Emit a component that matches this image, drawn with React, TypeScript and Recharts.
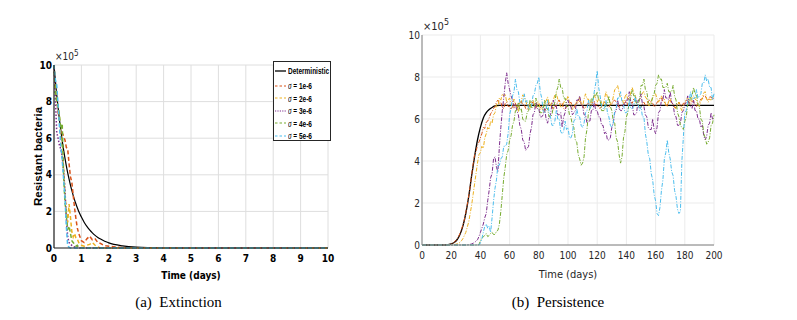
import { LineChart, Line, XAxis, YAxis, CartesianGrid, Label } from "recharts";

const NARROW = "'Liberation Sans Narrow', 'Arial Narrow', 'DejaVu Sans Condensed', sans-serif";
const SANS = "'Liberation Sans', Arial, sans-serif";
const SERIF = "'Liberation Serif', 'Times New Roman', serif";

// shared series styling (MATLAB default colour order)
const sigmaLabels = ["1e-6", "2e-6", "3e-6", "4e-6", "5e-6"];
const sigmaColors = ["#D95319", "#EDB120", "#7E2F8E", "#77AC30", "#4DBEEE"];
const extDash = ["4 2.5", "4 2.5", "1.5 1.8", "4 2.5", "4 2.5"];

const extTicksX = [0, 1, 2, 3, 4, 5, 6, 7, 8, 9, 10];
const perTicksX = [0, 20, 40, 60, 80, 100, 120, 140, 160, 180, 200];
const ticksY = [0, 2, 4, 6, 8, 10];

// (a) Extinction, values in units of 10^5
const extTime = [
  0, 0.05, 0.1, 0.15, 0.2, 0.25, 0.3, 0.35, 0.4, 0.45,
  0.5, 0.55, 0.6, 0.65, 0.7, 0.75, 0.8, 0.85, 0.9, 0.95,
  1.0, 1.1, 1.2, 1.3, 1.4, 1.5, 1.6, 1.7, 1.8, 1.9,
  2.0, 2.5, 3, 4, 5, 6, 7, 8, 9, 10,
];
const extDet = [
  10, 9.15, 8.37, 7.66, 7.0, 6.41, 5.86, 5.36, 4.91, 4.49,
  4.11, 3.76, 3.44, 3.15, 2.88, 2.63, 2.41, 2.2, 2.01, 1.84,
  1.69, 1.41, 1.18, 0.99, 0.83, 0.69, 0.58, 0.49, 0.41, 0.34,
  0.28, 0.12, 0.05, 0.01, 0, 0, 0, 0, 0, 0,
];
const extS1 = [
  10, 9.0, 8.1, 7.4, 6.9, 6.2, 6.3, 6.1, 5.9, 5.5,
  5.4, 4.6, 3.9, 3.6, 2.9, 2.2, 1.6, 1.1, 0.8, 0.6,
  0.4, 0.3, 0.5, 0.65, 0.45, 0.5, 0.3, 0.25, 0.15, 0.12,
  0.1, 0.02, 0, 0, 0, 0, 0, 0, 0, 0,
];
const extS2 = [
  10, 8.8, 8.0, 7.8, 7.1, 6.0, 5.2, 4.4, 3.0, 2.0,
  1.4, 2.4, 1.7, 0.9, 0.6, 0.8, 0.55, 0.5, 0.3, 0.2,
  0.15, 0.1, 0.15, 0.2, 0.3, 0.15, 0.05, 0, 0, 0,
  0, 0, 0, 0, 0, 0, 0, 0, 0, 0,
];
const extS3 = [
  10, 8.2, 6.3, 6.0, 5.6, 5.4, 5.0, 4.2, 3.2, 1.6,
  0.6, 0.3, 0.2, 0.15, 0.1, 0.05, 0.05, 0.1, 0.05, 0,
  0, 0, 0, 0, 0, 0, 0, 0, 0, 0,
  0, 0, 0, 0, 0, 0, 0, 0, 0, 0,
];
const extS4 = [
  10, 8.5, 8.0, 7.7, 7.2, 6.5, 6.8, 4.0, 2.5, 1.8,
  1.0, 1.2, 0.8, 0.4, 0.3, 0.2, 0.1, 0.15, 0.05, 0.02,
  0, 0, 0, 0, 0, 0, 0, 0, 0, 0,
  0, 0, 0, 0, 0, 0, 0, 0, 0, 0,
];
const extS5 = [
  10, 9.2, 8.9, 7.8, 6.6, 5.6, 4.8, 3.8, 2.8, 1.2,
  0.1, 0.05, 0, 0, 0, 0, 0, 0, 0, 0,
  0, 0, 0, 0, 0, 0, 0, 0, 0, 0,
  0, 0, 0, 0, 0, 0, 0, 0, 0, 0,
];

// (b) Persistence: deterministic curve sampled every 2 days up to the plateau
const detTime = [
  0, 2, 4, 6, 8, 10, 12, 14, 16, 18,
  20, 22, 24, 26, 28, 30, 32, 34, 36, 38,
  40, 42, 44, 46, 48, 50, 52, 60, 80, 100,
  120, 140, 160, 180, 200,
];
const perDet = [
  0, 0, 0, 0, 0, 0, 0, 0, 0, 0.02,
  0.05, 0.12, 0.25, 0.5, 0.9, 1.5, 2.3, 3.3, 4.2, 5.0,
  5.6, 6.05, 6.3, 6.45, 6.55, 6.62, 6.65, 6.65, 6.65, 6.65,
  6.65, 6.65, 6.65, 6.65, 6.65,
];

// stochastic runs, one sample per day
const dayTime = [
  0, 1, 2, 3, 4, 5, 6, 7, 8, 9, 10, 11, 12, 13, 14, 15, 16, 17, 18, 19,
  20, 21, 22, 23, 24, 25, 26, 27, 28, 29, 30, 31, 32, 33, 34, 35, 36, 37, 38, 39,
  40, 41, 42, 43, 44, 45, 46, 47, 48, 49, 50, 51, 52, 53, 54, 55, 56, 57, 58, 59,
  60, 61, 62, 63, 64, 65, 66, 67, 68, 69, 70, 71, 72, 73, 74, 75, 76, 77, 78, 79,
  80, 81, 82, 83, 84, 85, 86, 87, 88, 89, 90, 91, 92, 93, 94, 95, 96, 97, 98, 99,
  100, 101, 102, 103, 104, 105, 106, 107, 108, 109, 110, 111, 112, 113, 114, 115, 116, 117, 118, 119,
  120, 121, 122, 123, 124, 125, 126, 127, 128, 129, 130, 131, 132, 133, 134, 135, 136, 137, 138, 139,
  140, 141, 142, 143, 144, 145, 146, 147, 148, 149, 150, 151, 152, 153, 154, 155, 156, 157, 158, 159,
  160, 161, 162, 163, 164, 165, 166, 167, 168, 169, 170, 171, 172, 173, 174, 175, 176, 177, 178, 179,
  180, 181, 182, 183, 184, 185, 186, 187, 188, 189, 190, 191, 192, 193, 194, 195, 196, 197, 198, 199,
  200,
];
const perS1 = [
  0, 0, 0, 0, 0, 0, 0, 0, 0, 0, 0, 0, 0, 0, 0, 0, 0, 0, 0.02, 0.03,
  0.05, 0.08, 0.13, 0.19, 0.28, 0.4, 0.55, 0.74, 0.95, 1.2, 1.55, 1.92, 2.35, 2.8, 3.35, 3.85, 4.3, 4.45, 4.75, 4.9,
  5.1, 5.3, 5.6, 5.55, 5.85, 5.9, 6.05, 6.25, 6.35, 6.5, 6.6, 6.8, 6.9, 6.75, 6.8, 6.55, 6.5, 6.75, 6.8, 6.6,
  6.6, 6.45, 6.6, 6.5, 6.75, 6.5, 6.6, 6.8, 6.85, 6.65, 6.7, 6.5, 6.45, 6.6, 6.65, 6.85, 6.75, 6.6, 6.5, 6.7,
  6.7, 6.55, 6.6, 6.4, 6.35, 6.55, 6.6, 6.8, 6.7, 6.6, 6.45, 6.65, 6.6, 6.85, 6.9, 6.7, 6.75, 6.5, 6.45, 6.6,
  6.6, 6.75, 6.8, 6.6, 6.55, 6.7, 6.7, 6.9, 6.85, 6.7, 6.65, 6.5, 6.55, 6.7, 6.75, 6.6, 6.65, 6.8, 6.85, 6.65,
  6.7, 6.55, 6.5, 6.6, 6.65, 6.8, 6.75, 6.6, 6.55, 6.7, 6.7, 6.85, 6.9, 6.8, 6.75, 6.55, 6.6, 6.7, 6.65, 6.85,
  6.85, 6.65, 6.65, 6.8, 6.75, 6.95, 6.9, 6.75, 6.7, 6.55, 6.55, 6.75, 6.8, 6.65, 6.65, 6.85, 6.9, 6.8, 6.75, 6.6,
  6.6, 6.8, 6.85, 7.0, 7.0, 6.85, 6.8, 6.65, 6.65, 6.85, 6.9, 6.75, 6.7, 6.55, 6.55, 6.75, 6.8, 6.65, 6.6, 6.75,
  6.75, 6.9, 6.9, 6.75, 6.7, 6.85, 6.85, 6.7, 6.6, 6.75, 6.8, 6.95, 6.95, 7.1, 7.1, 6.95, 6.9, 7.05, 7.05, 6.95,
  7.0,
];
const perS2 = [
  0, 0, 0, 0, 0, 0, 0, 0, 0, 0, 0, 0, 0, 0, 0, 0, 0, 0, 0, 0,
  0, 0.01, 0.02, 0.03, 0.05, 0.08, 0.12, 0.2, 0.3, 0.45, 0.6, 0.85, 1.1, 1.5, 1.9, 2.4, 2.9, 3.4, 3.9, 4.3,
  4.4, 4.7, 4.6, 5.1, 5.3, 5.6, 5.5, 5.9, 5.8, 6.2, 6.3, 6.7, 6.6, 7.0, 6.9, 7.2, 7.1, 7.2, 6.8, 6.9,
  7.0, 6.7, 6.6, 6.95, 6.7, 6.55, 6.35, 6.75, 6.85, 7.15, 7.05, 6.9, 6.6, 6.7, 6.45, 6.85, 6.9, 6.65, 6.6, 6.85,
  6.8, 6.45, 6.5, 6.55, 6.8, 6.85, 7.05, 6.75, 6.6, 6.8, 6.9, 7.15, 7.2, 6.95, 6.8, 6.55, 6.6, 6.75, 6.95, 6.9,
  7.1, 6.8, 6.7, 6.45, 6.5, 6.6, 6.85, 6.8, 7.05, 6.75, 6.6, 6.95, 7.2, 6.95, 6.95, 6.75, 6.75, 6.95, 7.15, 6.95,
  6.8, 6.95, 7.0, 6.75, 6.6, 6.95, 7.3, 7.05, 6.95, 6.75, 6.7, 7.05, 7.4, 7.45, 7.6, 7.25, 7.0, 6.95, 6.75, 7.05,
  7.2, 6.95, 6.95, 7.25, 7.5, 7.25, 7.15, 6.85, 6.85, 6.95, 7.0, 7.25, 7.3, 7.05, 6.95, 6.65, 6.65, 6.85, 7.0, 7.15,
  7.2, 6.95, 6.8, 6.95, 7.1, 6.95, 6.95, 6.65, 6.6, 6.85, 7.0, 6.75, 6.7, 6.55, 6.5, 6.65, 6.8, 6.55, 6.4, 6.65,
  6.7, 6.95, 7.0, 6.85, 6.8, 7.05, 7.1, 6.95, 6.9, 6.65, 6.6, 6.85, 7.0, 7.25, 7.3, 6.95, 6.8, 6.95, 6.9, 7.05,
  7.1,
];
const perS3 = [
  0, 0, 0, 0, 0, 0, 0, 0, 0, 0, 0, 0, 0, 0, 0, 0, 0, 0, 0, 0,
  0, 0, 0, 0, 0, 0, 0, 0, 0, 0, 0, 0.01, 0.02, 0.03, 0.05, 0.08, 0.12, 0.18, 0.25, 0.4,
  0.6, 0.8, 1.0, 1.3, 1.5, 2.1, 2.6, 3.2, 3.4, 4.1, 4.2, 3.7, 3.5, 4.7, 5.6, 6.4, 7.0, 7.7, 8.2, 7.7,
  7.4, 7.1, 6.9, 6.6, 6.7, 6.4, 6.2, 5.7, 5.5, 5.0, 4.9, 4.5, 4.6, 4.7, 5.3, 5.6, 6.2, 6.3, 6.8, 6.5,
  6.5, 6.1, 6.1, 6.2, 6.5, 6.0, 5.8, 6.1, 6.2, 6.7, 6.9, 6.6, 6.6, 6.2, 6.2, 6.3, 5.6, 6.1, 6.3, 6.8,
  6.9, 6.6, 6.6, 6.2, 6.3, 6.4, 6.9, 6.9, 7.1, 6.7, 6.6, 6.2, 6.2, 5.8, 5.9, 5.9, 6.4, 6.4, 6.8, 6.4,
  6.4, 6.1, 6.1, 5.7, 5.7, 5.3, 5.4, 5.0, 5.0, 5.1, 5.6, 5.8, 6.3, 6.4, 6.9, 6.5, 6.4, 6.4, 6.7, 6.7,
  6.9, 6.9, 7.3, 6.8, 6.7, 6.2, 6.2, 6.3, 6.9, 6.9, 7.2, 6.7, 6.6, 6.2, 6.1, 5.6, 5.5, 5.5, 6.0, 5.5,
  5.3, 5.6, 6.3, 6.4, 6.9, 6.9, 7.4, 7.0, 7.0, 6.9, 7.3, 6.8, 6.7, 6.2, 6.1, 5.7, 5.7, 5.8, 6.3, 6.4,
  6.7, 6.8, 7.1, 6.7, 6.6, 6.5, 6.9, 6.4, 6.4, 6.0, 6.0, 5.6, 5.7, 5.2, 5.0, 5.2, 5.7, 5.8, 6.3, 6.0,
  6.0,
];
const perS4 = [
  0, 0, 0, 0, 0, 0, 0, 0, 0, 0, 0, 0, 0, 0, 0, 0, 0, 0, 0, 0,
  0, 0, 0, 0, 0, 0, 0, 0, 0, 0, 0, 0, 0, 0, 0, 0, 0, 0, 0.01, 0.02,
  0.2, 0.3, 0.4, 0.45, 0.55, 0.4, 0.45, 0.55, 0.6, 0.5, 0.5, 0.65, 0.7, 1.0, 1.6, 2.4, 3.2, 3.7, 4.3, 4.5,
  5.0, 5.2, 5.7, 5.9, 6.4, 6.4, 6.8, 6.4, 6.5, 6.0, 5.9, 5.9, 6.3, 6.4, 6.9, 6.5, 6.6, 6.6, 7.0, 6.6,
  6.6, 6.3, 6.3, 6.4, 6.9, 6.5, 6.5, 6.1, 6.1, 6.2, 6.6, 6.8, 7.3, 7.5, 7.9, 7.5, 7.5, 7.0, 7.0, 6.6,
  6.6, 6.2, 6.1, 5.7, 5.6, 5.0, 4.9, 4.3, 4.1, 3.8, 3.9, 4.2, 5.1, 5.5, 6.3, 6.5, 7.0, 6.9, 7.2, 7.1,
  7.3, 6.9, 6.9, 6.4, 6.4, 6.4, 6.7, 6.7, 7.1, 6.6, 6.4, 5.9, 5.8, 5.1, 4.9, 4.3, 3.9, 4.2, 5.1, 5.4,
  6.1, 6.3, 6.9, 7.0, 7.4, 7.1, 7.1, 6.7, 6.7, 6.9, 7.6, 7.6, 7.9, 7.4, 7.3, 6.8, 6.7, 6.7, 7.1, 7.2,
  7.6, 7.7, 8.1, 7.9, 7.9, 7.5, 7.5, 7.5, 7.7, 7.3, 7.3, 7.3, 7.6, 7.1, 6.9, 6.3, 6.1, 5.7, 5.6, 5.5,
  5.9, 6.1, 6.7, 6.7, 7.1, 7.1, 7.5, 7.2, 7.2, 6.7, 6.6, 6.0, 5.9, 5.3, 5.1, 4.8, 4.9, 5.1, 5.7, 5.8,
  6.2,
];
const perS5 = [
  0, 0, 0, 0, 0, 0, 0, 0, 0, 0, 0, 0, 0, 0, 0, 0, 0, 0, 0, 0,
  0, 0, 0, 0, 0, 0, 0, 0, 0, 0, 0, 0, 0, 0, 0, 0, 0, 0, 0, 0,
  0.1, 0.3, 0.6, 0.9, 1.0, 0.8, 0.9, 0.6, 1.3, 2.1, 2.7, 3.1, 3.8, 3.8, 4.1, 4.2, 4.7, 4.7, 4.8, 5.3,
  6.2, 6.5, 7.1, 7.3, 7.9, 7.4, 7.3, 6.8, 6.7, 6.8, 7.2, 6.8, 6.9, 6.5, 6.5, 6.6, 7.1, 7.2, 7.6, 7.7,
  8.0, 7.3, 7.0, 6.4, 6.3, 6.4, 6.9, 6.3, 6.1, 5.7, 5.7, 5.9, 6.4, 6.0, 6.0, 5.4, 5.3, 5.4, 5.9, 5.5,
  5.6, 5.1, 5.1, 5.3, 5.9, 6.0, 6.5, 6.1, 6.1, 5.7, 5.6, 5.8, 6.3, 6.4, 6.9, 6.5, 6.6, 6.8, 7.3, 7.7,
  8.3, 7.5, 7.1, 6.6, 6.5, 6.5, 6.9, 6.3, 6.1, 5.7, 5.6, 5.8, 6.4, 6.5, 7.0, 7.0, 7.3, 6.8, 6.7, 6.3,
  6.3, 6.4, 6.9, 6.5, 6.5, 6.6, 7.1, 6.7, 6.7, 6.4, 6.6, 6.1, 6.1, 5.3, 4.9, 4.3, 4.1, 3.4, 3.1, 2.4,
  2.1, 1.5, 1.4, 1.8, 2.6, 3.1, 4.1, 4.4, 5.0, 4.4, 4.1, 3.5, 3.3, 2.6, 2.3, 1.7, 1.5, 1.6, 4.0, 5.1,
  6.3, 6.4, 6.9, 6.9, 7.3, 6.9, 7.0, 7.0, 7.4, 7.0, 7.1, 7.2, 7.7, 7.7, 8.1, 7.8, 7.9, 7.5, 7.5, 6.9,
  7.2,
];

const pts = (t: number[], v: number[]) => t.map((x, i) => ({ x, y: v[i] }));

function Times10({ left, top, size }: { left: number; top: number; size: number }) {
  return (
    <div style={{ position: "absolute", left, top, fontFamily: NARROW, fontSize: size, color: "#262626", lineHeight: 1, whiteSpace: "nowrap" }}>
      ×10
      <span style={{ fontSize: size * 0.8, position: "relative", top: -size * 0.45 }}>5</span>
    </div>
  );
}

function ExtinctionLegend() {
  const rows = [{ label: "Deterministic", color: "#000", dash: undefined as string | undefined }].concat(
    sigmaLabels.map((s, i) => ({ label: s, color: sigmaColors[i], dash: i === 2 ? "1.2 1.2" : "2.5 2" }))
  );
  const txt = { fontFamily: SANS, fontWeight: 700, fontSize: 9, color: "#000", display: "inline-block", transform: "scaleX(0.72)", transformOrigin: "left center" };
  return (
    <div style={{ position: "absolute", left: 273, top: 61, width: 56, height: 78, border: "1px solid #262626", background: "#fff" }}>
      {rows.map((r, i) => (
        <div key={r.label} style={{ position: "absolute", left: 1, top: i === 0 ? 3 : 17.5 + (i - 1) * 12.6, height: 12, display: "flex", alignItems: "center", whiteSpace: "nowrap" }}>
          <svg width={11} height={4} style={{ marginRight: 1.5 }}>
            <line x1={0} y1={2} x2={11} y2={2} stroke={r.color} strokeWidth={i === 0 ? 1.3 : 1.1} strokeDasharray={r.dash} />
          </svg>
          {i === 0 ? (
            <span style={txt}>Deterministic</span>
          ) : (
            <span style={txt}>
              <span style={{ fontFamily: SERIF, fontStyle: "italic", fontWeight: 400, fontSize: 10 }}>σ</span> = {r.label}
            </span>
          )}
        </div>
      ))}
    </div>
  );
}

function ExtinctionChart() {
  const series = [extS1, extS2, extS3, extS4, extS5];
  const tick = { fontSize: 10, fontWeight: 700, fill: "#000", fontFamily: NARROW };
  return (
    <LineChart width={360} height={320} margin={{ top: 65, right: 32, bottom: 32, left: 22 }}>
      <CartesianGrid stroke="#dedede" />
      <XAxis type="number" dataKey="x" domain={[0, 10]} ticks={extTicksX} height={40}
        axisLine={{ stroke: "#262626", strokeWidth: 1.2 }} tickLine={false} tickSize={4} tickMargin={3} tick={tick}>
        <Label value="Time (days)" position="insideBottom" offset={9} fontSize={10} fontWeight={700} fill="#000" fontFamily={NARROW} />
      </XAxis>
      <YAxis type="number" domain={[0, 10]} ticks={ticksY} width={32}
        axisLine={{ stroke: "#262626", strokeWidth: 1.2 }} tickLine={false} tickSize={0} tickMargin={2} tick={tick}>
        <Label value="Resistant bacteria" angle={-90} position="center" fontSize={11.5} fontWeight={700} fill="#000" fontFamily={SANS} />
      </YAxis>
      <Line data={pts(extTime, extDet)} dataKey="y" type="monotone" stroke="#000" strokeWidth={1.2} dot={false} isAnimationActive={false} />
      {series.map((v, i) => (
        <Line key={sigmaLabels[i]} data={pts(extTime, v)} dataKey="y" type="linear" stroke={sigmaColors[i]}
          strokeWidth={1.5} strokeDasharray={extDash[i]} dot={false} isAnimationActive={false} />
      ))}
    </LineChart>
  );
}

function PersistenceChart() {
  const series = [perS1, perS2, perS3, perS4, perS5];
  const tick = { fontSize: 10, fill: "#262626", fontFamily: NARROW };
  return (
    <LineChart width={417} height={320} margin={{ top: 35, right: 83, bottom: 35, left: 12 }}>
      <CartesianGrid stroke="#ebebeb" />
      <XAxis type="number" dataKey="x" domain={[0, 200]} ticks={perTicksX} height={40}
        axisLine={{ stroke: "#808080" }} tickLine={false} tickSize={4} tickMargin={3} tick={tick}>
        <Label value="Time (days)" position="insideBottom" offset={7} fontSize={11} fill="#262626" fontFamily={NARROW} />
      </XAxis>
      <YAxis type="number" domain={[0, 10]} ticks={ticksY} width={30}
        axisLine={{ stroke: "#808080" }} tickLine={false} tickSize={0} tickMargin={2} tick={tick} />
      <Line data={pts(detTime, perDet)} dataKey="y" type="monotone" stroke="#000" strokeWidth={1.3} dot={false} isAnimationActive={false} />
      {series.map((v, i) => (
        <Line key={sigmaLabels[i]} data={pts(dayTime, v)} dataKey="y" type="linear" stroke={sigmaColors[i]}
          strokeWidth={1} strokeDasharray="4 1.5 1 1.5" dot={false} isAnimationActive={false} />
      ))}
    </LineChart>
  );
}

export default function App() {
  const caption = { position: "absolute" as const, width: 200, textAlign: "center" as const, fontFamily: SERIF, fontSize: 15, lineHeight: "18px", whiteSpace: "pre" as const, color: "#000" };
  return (
    <div style={{ position: "absolute", left: 0, top: 0, width: 797, height: 320, background: "#fff", overflow: "hidden" }}>
      <div style={{ position: "absolute", left: 0, top: 0 }}>
        <ExtinctionChart />
      </div>
      <div style={{ position: "absolute", left: 380, top: 0 }}>
        <PersistenceChart />
      </div>
      <ExtinctionLegend />
      <Times10 left={55} top={52} size={10} />
      <Times10 left={423} top={21} size={11} />
      <div style={{ ...caption, left: 78.5, top: 293 }}>(a)  Extinction</div>
      <div style={{ ...caption, left: 458, top: 293 }}>(b)  Persistence</div>
    </div>
  );
}
